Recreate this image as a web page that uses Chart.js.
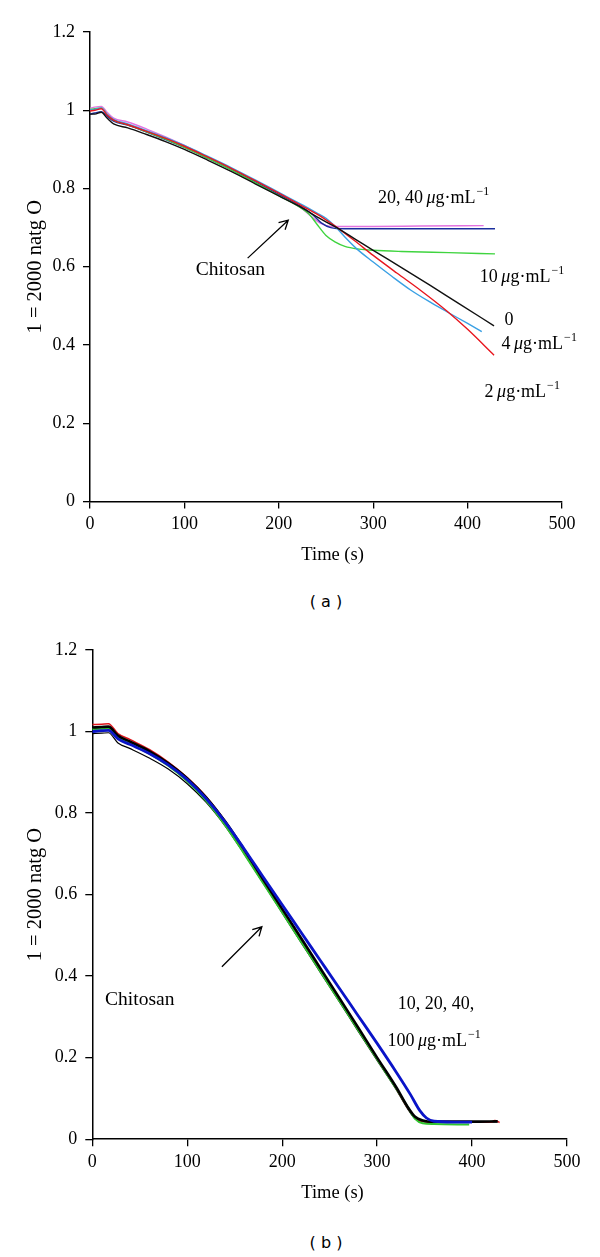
<!DOCTYPE html>
<html>
<head>
<meta charset="utf-8">
<script src="https://cdn.jsdelivr.net/npm/chart.js@4"></script>
<style>
  body { margin: 0; background: #fff; }
  #wrap { position: relative; width: 600px; height: 1257px; }
  canvas { position: absolute; left: 0; }
  .cap { position: absolute; left: 276px; width: 100px; text-align: center;
         font: 16px "DejaVu Sans", sans-serif; line-height: 24px; color: #000; }
</style>
</head>
<body>
<div id="wrap">
  <canvas id="chartA" width="600" height="570" style="top:0;width:600px;height:570px"></canvas>
  <div class="cap" style="top:590px">( a )</div>
  <canvas id="chartB" width="600" height="590" style="top:620px;width:600px;height:590px"></canvas>
  <div class="cap" style="top:1231px">( b )</div>
</div>
<script>
// axis ticks
const xTicks = [0, 100, 200, 300, 400, 500];
const yTicks = [0, 0.2, 0.4, 0.6, 0.8, 1, 1.2];
const yTickLabels = ['0', '0.2', '0.4', '0.6', '0.8', '1', '1.2'];

// panel (a): [time (s), signal]
const a_ctrl = [[0,0.99],[5,0.99],[12,0.995],[18,0.98],[25,0.965],[40,0.955],[60,0.938],[80,0.92],[100,0.9],[125,0.872],[150,0.843],[175,0.812],[200,0.781],[225,0.75],[240,0.728],[259,0.703],[280,0.672],[300,0.642],[330,0.598],[360,0.553],[390,0.507],[428,0.449]];
const a_2ug = [[0,0.998],[5,1.0],[12,1.004],[18,0.988],[25,0.975],[40,0.963],[60,0.946],[80,0.928],[100,0.908],[125,0.88],[150,0.851],[175,0.82],[200,0.788],[225,0.755],[240,0.735],[250,0.72],[259,0.705],[280,0.667],[300,0.629],[325,0.584],[350,0.54],[378,0.487],[400,0.44],[428,0.374]];
const a_4ug = [[0,1.0],[5,1.002],[12,1.006],[18,0.99],[25,0.977],[40,0.965],[60,0.948],[80,0.93],[100,0.91],[125,0.882],[150,0.853],[175,0.822],[200,0.79],[225,0.758],[240,0.738],[250,0.724],[259,0.705],[270,0.676],[282,0.647],[300,0.612],[320,0.575],[340,0.54],[360,0.51],[378,0.485],[400,0.455],[415,0.434]];
const a_10ug = [[0,1.002],[5,1.004],[12,1.006],[18,0.99],[25,0.975],[40,0.963],[60,0.945],[80,0.926],[100,0.905],[125,0.877],[150,0.847],[175,0.815],[200,0.782],[225,0.748],[232,0.735],[240,0.71],[250,0.68],[260,0.663],[270,0.652],[285,0.645],[300,0.642],[330,0.639],[380,0.636],[429,0.633]];
const a_20ug = [[0,0.99],[5,0.993],[12,0.996],[18,0.985],[25,0.972],[40,0.962],[60,0.944],[80,0.925],[100,0.905],[125,0.877],[150,0.848],[175,0.817],[200,0.785],[225,0.752],[235,0.735],[245,0.712],[255,0.7],[270,0.697],[300,0.697],[350,0.697],[429,0.697]];
const a_40ug = [[0,1.005],[5,1.008],[12,1.01],[18,0.995],[25,0.98],[40,0.97],[60,0.952],[80,0.932],[100,0.91],[125,0.88],[150,0.85],[175,0.818],[200,0.784],[225,0.748],[235,0.727],[245,0.71],[255,0.703],[270,0.703],[300,0.703],[350,0.704],[417,0.705]];

// panel (b): [time (s), signal]
const b_red = [[0,1.017],[10,1.018],[17,1.019],[27,0.995],[40,0.98],[60,0.956],[80,0.925],[100,0.887],[120,0.84],[140,0.78],[160,0.71],[180,0.636],[200,0.563],[220,0.49],[240,0.417],[260,0.344],[280,0.27],[300,0.197],[320,0.125],[332,0.078],[340,0.053],[348,0.044],[360,0.042],[400,0.042],[420,0.042],[424,0.046],[429,0.041]];
const b_black = [[0,1.01],[10,1.011],[17,1.012],[27,0.99],[40,0.975],[60,0.952],[80,0.922],[100,0.885],[120,0.838],[140,0.779],[160,0.71],[180,0.637],[200,0.565],[220,0.493],[240,0.42],[260,0.347],[280,0.274],[300,0.2],[320,0.128],[332,0.08],[340,0.055],[348,0.046],[360,0.043],[400,0.043],[427,0.044]];
const b_green = [[0,1.006],[10,1.007],[17,1.008],[27,0.986],[40,0.97],[60,0.946],[80,0.916],[100,0.878],[120,0.83],[140,0.77],[160,0.7],[180,0.628],[200,0.556],[220,0.484],[240,0.412],[260,0.34],[280,0.268],[300,0.196],[320,0.125],[332,0.08],[340,0.05],[348,0.039],[360,0.037],[397,0.036]];
const b_blue = [[0,1.0],[10,1.002],[17,1.003],[27,0.982],[40,0.968],[60,0.946],[80,0.918],[100,0.882],[120,0.835],[140,0.778],[160,0.712],[180,0.643],[200,0.575],[220,0.507],[240,0.439],[260,0.371],[280,0.303],[300,0.235],[320,0.165],[335,0.11],[345,0.07],[352,0.052],[360,0.044],[380,0.042],[400,0.042]];
const b_thin = [[0,0.995],[10,0.996],[17,0.997],[27,0.972],[40,0.958],[60,0.935],[80,0.908],[100,0.872],[120,0.826],[140,0.768],[160,0.7],[180,0.628],[200,0.555],[220,0.482],[240,0.41],[260,0.338],[280,0.265],[300,0.193],[320,0.122],[332,0.075],[340,0.05],[348,0.043],[360,0.042],[400,0.042],[427,0.042]];

// text placed in data coordinates
const notesA = [
  { x: 305, y: 0.762, text: '20, 40', unit: true },
  { x: 413, y: 0.562, text: '10', unit: true },
  { x: 439, y: 0.451, text: '0' },
  { x: 436, y: 0.39, text: '4', unit: true },
  { x: 418, y: 0.268, text: '2', unit: true },
  { x: 112, y: 0.579, text: 'Chitosan', size: 19.5 }
];
const arrowsA = [{ from: [167, 0.622], to: [210, 0.719] }];
const notesB = [
  { x: 321.8, y: 0.319, text: '10, 20, 40,' },
  { x: 311, y: 0.229, text: '100', unit: true },
  { x: 13.5, y: 0.33, text: 'Chitosan', size: 19.5 }
];
const arrowsB = [{ from: [136.5, 0.423], to: [178.6, 0.521] }];

const SERIF = '"Liberation Serif", "Times New Roman", serif';

function drawNote(ctx, px, py, n) {
  ctx.font = (n.size || 18) + 'px ' + SERIF;
  ctx.fillText(n.text, px, py);
  if (!n.unit) return;
  let cx = px + ctx.measureText(n.text + ' ').width - 1;
  ctx.font = 'italic 18px ' + SERIF;
  ctx.fillText('\u03bc', cx, py);
  cx += ctx.measureText('\u03bc').width;
  ctx.font = '18px ' + SERIF;
  ctx.fillText('g\u00b7mL', cx, py);
  cx += ctx.measureText('g\u00b7mL').width + 1;
  ctx.font = '12px ' + SERIF;
  ctx.fillText('\u22121', cx, py - 8);
}

const notesPlugin = {
  id: 'notes',
  afterDatasetsDraw(chart, args, opts) {
    const { ctx, chartArea, scales: { x, y } } = chart;
    ctx.save();
    ctx.fillStyle = '#000';
    ctx.strokeStyle = '#000';
    ctx.textBaseline = 'alphabetic';
    ctx.textAlign = 'left';
    (opts.notes || []).forEach(n => drawNote(ctx, x.getPixelForValue(n.x), y.getPixelForValue(n.y), n));
    (opts.arrows || []).forEach(a => {
      const x0 = x.getPixelForValue(a.from[0]), y0 = y.getPixelForValue(a.from[1]);
      const x1 = x.getPixelForValue(a.to[0]), y1 = y.getPixelForValue(a.to[1]);
      const ang = Math.atan2(y1 - y0, x1 - x0);
      ctx.lineWidth = 1.3;
      ctx.beginPath();
      ctx.moveTo(x0, y0);
      ctx.lineTo(x1, y1);
      ctx.moveTo(x1 - 10 * Math.cos(ang - 0.5), y1 - 10 * Math.sin(ang - 0.5));
      ctx.lineTo(x1, y1);
      ctx.lineTo(x1 - 10 * Math.cos(ang + 0.5), y1 - 10 * Math.sin(ang + 0.5));
      ctx.stroke();
    });
    // x-axis title, sits a little right of centre in the original
    ctx.font = '18.5px ' + SERIF;
    ctx.textAlign = 'center';
    ctx.textBaseline = 'middle';
    ctx.fillText('Time (s)', x.getPixelForValue(opts.titleAt), chartArea.bottom + 54);
    ctx.restore();
  }
};

function series(points, color, width) {
  return {
    data: points.map(p => ({ x: p[0], y: p[1] })),
    borderColor: color,
    borderWidth: width,
    pointRadius: 0,
    cubicInterpolationMode: 'monotone',
    fill: false
  };
}

function makeOptions(geo, notes, arrows) {
  const tickFont = { family: SERIF, size: 18 };
  return {
    responsive: false,
    animation: false,
    layout: { padding: { top: geo.top, right: geo.right, bottom: geo.bottom, left: 0 } },
    plugins: {
      legend: { display: false },
      tooltip: { enabled: false },
      notes: { notes, arrows, titleAt: geo.titleAt }
    },
    scales: {
      x: {
        type: 'linear', min: 0, max: 500,
        afterBuildTicks: s => { s.ticks = xTicks.map(v => ({ value: v })); },
        afterFit: s => { s.height = geo.xh; },
        ticks: { color: '#000', font: tickFont, padding: 5, maxRotation: 0 },
        grid: { drawOnChartArea: false, tickLength: 7, color: '#000', lineWidth: 1.3 },
        border: { color: '#000', width: 1.5 }
      },
      y: {
        type: 'linear', min: 0, max: 1.2,
        afterBuildTicks: s => { s.ticks = yTicks.map(v => ({ value: v })); },
        afterFit: s => { s.width = geo.yw; },
        ticks: { color: '#000', font: tickFont, padding: 8, callback: (v, i) => yTickLabels[i] },
        grid: { drawOnChartArea: false, tickLength: 7, color: '#000', lineWidth: 1.3 },
        border: { color: '#000', width: 1.5 },
        title: { display: true, text: '1 = 2000 natg O', color: '#000',
                 font: { family: SERIF, size: 20.5 }, padding: { top: 23, bottom: 0 } }
      }
    }
  };
}

new Chart(document.getElementById('chartA'), {
  type: 'line',
  data: {
    datasets: [
      series(a_ctrl, '#111111', 1.4),
      series(a_2ug, '#e8161e', 1.4),
      series(a_4ug, '#3aa0e4', 1.4),
      series(a_10ug, '#3fd43f', 1.4),
      series(a_20ug, '#1b2f9e', 1.4),
      series(a_40ug, '#e373e0', 1.4)
    ]
  },
  options: makeOptions({ top: 32, right: 38, bottom: 4, xh: 64.5, yw: 90, titleAt: 257 }, notesA, arrowsA),
  plugins: [notesPlugin]
});

new Chart(document.getElementById('chartB'), {
  type: 'line',
  data: {
    datasets: [
      series(b_blue, '#0a14c8', 2.8),
      series(b_black, '#000000', 2.6),
      series(b_green, '#2fc42f', 2),
      series(b_red, '#e0141b', 1.5),
      series(b_thin, '#000000', 1.2)
    ]
  },
  options: makeOptions({ top: 30, right: 33, bottom: 6, xh: 64.8, yw: 92.3, titleAt: 253 }, notesB, arrowsB),
  plugins: [notesPlugin]
});
</script>
</body>
</html>
